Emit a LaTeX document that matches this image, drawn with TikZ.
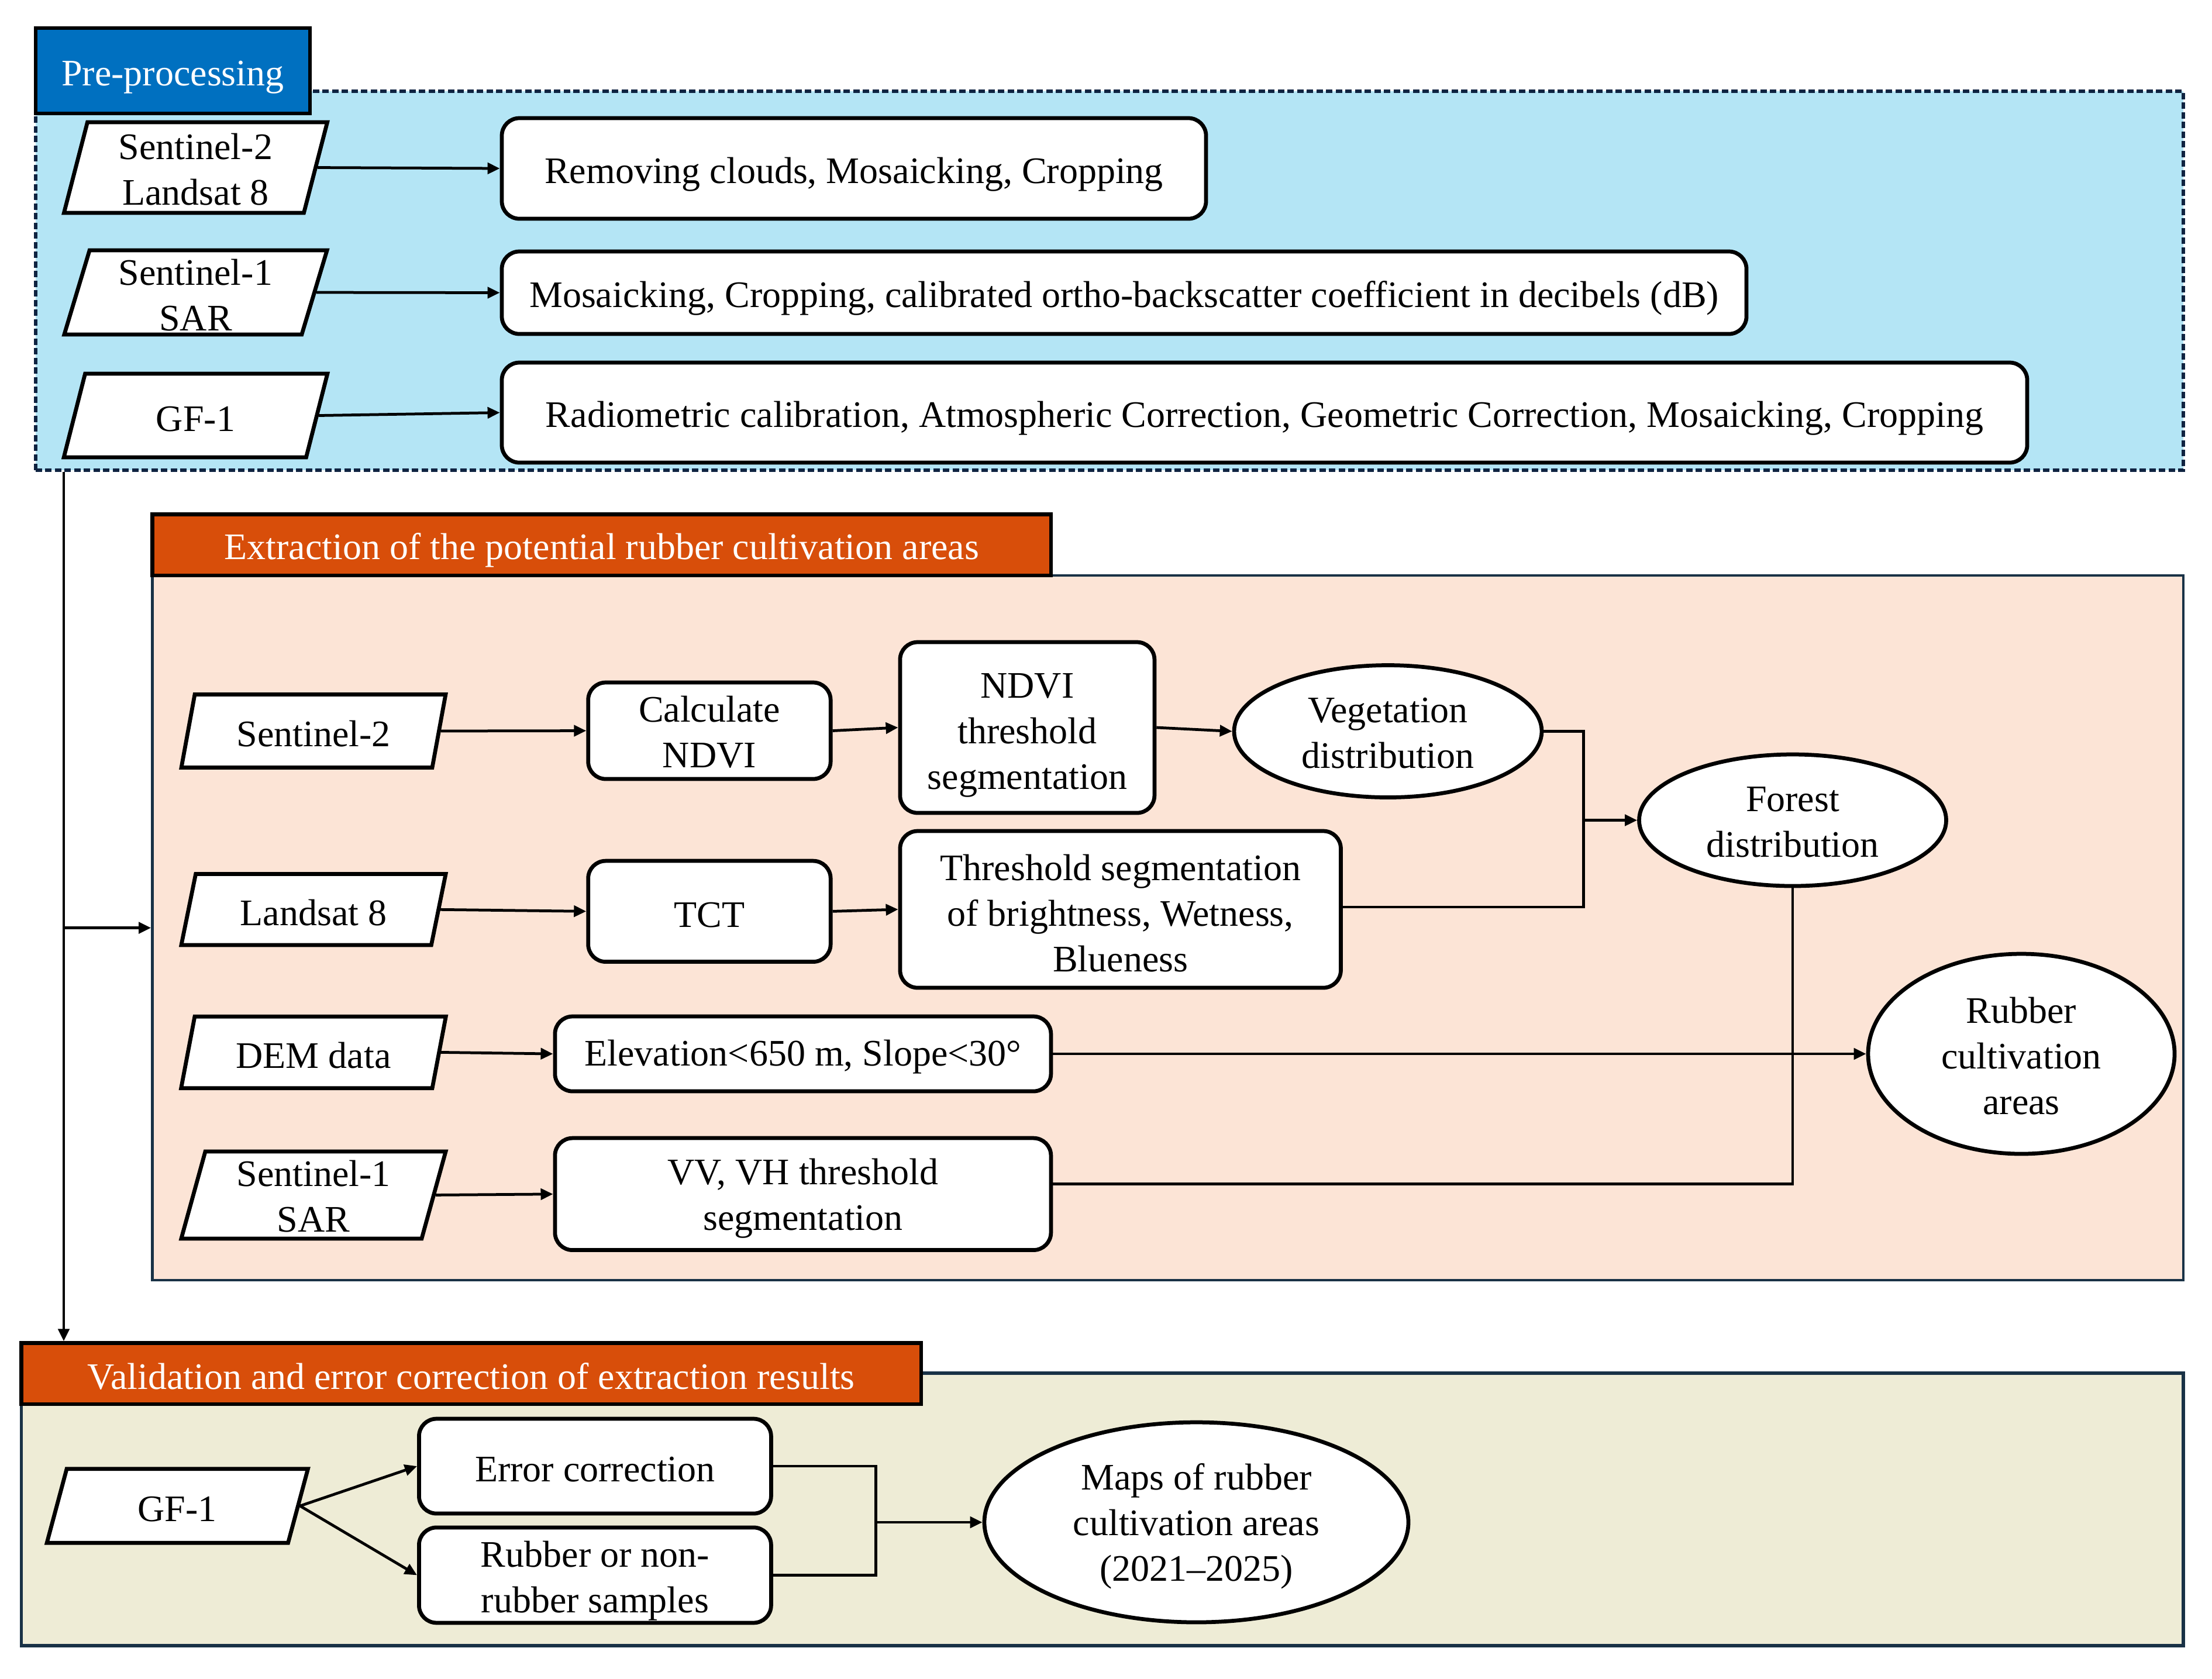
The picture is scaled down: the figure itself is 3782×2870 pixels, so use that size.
\documentclass[tikz,border=0pt]{standalone}
\usepackage{fontspec}
\setmainfont{Liberation Serif}
\usetikzlibrary{shapes.geometric,arrows.meta,calc}
\definecolor{preblue}{RGB}{0,112,192}
\definecolor{prefill}{RGB}{180,229,245}
\definecolor{orangeT}{RGB}{216,78,10}
\definecolor{extfill}{RGB}{252,228,214}
\definecolor{valfill}{RGB}{238,236,214}
\definecolor{framec}{RGB}{25,50,70}
\definecolor{dashc}{RGB}{15,35,65}
\newcommand{\lowby}[1]{\rule{0pt}{#1}}
\begin{document}
\begin{tikzpicture}[x=0.2pt,y=-0.2pt,
  every node/.style={font=\fontsize{12.8}{15.6}\selectfont, inner sep=0pt, align=center,
    execute at begin node={\rule{0pt}{10.8pt}}},
  lower/.style={execute at begin node={\rule{0pt}{12.8pt}}},
  sz/.style 2 args={minimum width=#1, minimum height=#2},
  para/.style 2 args={trapezium, trapezium left angle=#1, trapezium right angle=#2, trapezium stretches=true, draw, fill=white, line width=1.35pt},
  rbox/.style={rectangle, draw, fill=white, rounded corners=6pt, line width=1.35pt},
  ell/.style={ellipse, draw, fill=white, line width=1.35pt},
  region/.style={rectangle, line width=0.9pt},
  titlebox/.style={rectangle, draw=black, line width=1.3pt, text=white},
  arr/.style={-{Triangle[length=4.2pt,width=3.8pt]}, line width=0.95pt},
  conn/.style={line width=0.95pt}]
\useasboundingbox (0,0) rectangle (3782,2870);

% ---------- Pre-processing ----------
\node[region, fill=prefill, draw=dashc, line width=1.2pt, dash pattern=on 2.2pt off 1.1pt, sz={734.4pt}{129.6pt}] (preR) at (1897,480) {};
\node[titlebox, lower, fill=preblue, sz={93.8pt}{29.2pt}] (preT) at (295.5,121) {Pre-processing};

\node[para={77.6}{102.4}, sz={90.2pt}{31pt}] (pA) at (334.5,286.5) {\lowby{10.2pt}Sentinel-2\\Landsat 8};
\node[para={76.7}{103.3}, sz={90.2pt}{28.8pt}] (pB) at (334.5,500) {\lowby{10.8pt}Sentinel-1\\SAR};
\node[para={76.6}{103.4}, sz={90.2pt}{28.6pt}] (pC) at (334.5,710.5) {GF-1};

\node[rbox, lower, sz={240.8pt}{34.4pt}] (b1) at (1460,288) {Removing clouds, Mosaicking, Cropping};
\node[rbox, lower, sz={425.6pt}{28.2pt}] (b2) at (1922,500.5) {Mosaicking, Cropping, calibrated ortho-backscatter coefficient in decibels (dB)};
\node[rbox, lower, sz={521.6pt}{34.2pt}] (b3) at (2162,705.5) {Radiometric calibration, Atmospheric Correction, Geometric Correction, Mosaicking, Cropping};

\draw[arr] (pA.east) -- (b1.west);
\draw[arr] (pB.east) -- (b2.west);
\draw[arr] (pC.east) -- (b3.west);

% ---------- Extraction ----------
\node[region, fill=extfill, draw=framec, sz={694.5pt}{241pt}] (extR) at (1996.75,1586.5) {};
\node[titlebox, lower, fill=orangeT, sz={307.3pt}{20.9pt}] (extT) at (1028.75,931.75) {Extraction of the potential rubber cultivation areas};

\node[para={74.8}{105.2}, sz={90.8pt}{25pt}] (s2) at (536,1250) {Sentinel-2};
\node[para={74.3}{105.7}, sz={90.8pt}{24.3pt}] (l8) at (536,1555.3) {Landsat 8};
\node[para={74.5}{105.5}, sz={90.8pt}{24.5pt}] (dem) at (536,1799.4) {DEM data};
\node[para={77.1}{102.9}, sz={90.8pt}{29.8pt}] (s1) at (536,2043.4) {\lowby{9.8pt}Sentinel-1\\SAR};

\node[rbox, sz={82.9pt}{33pt}] (calc) at (1212.9,1249.5) {\lowby{9.6pt}Calculate\\NDVI};
\node[rbox, sz={82.9pt}{34.5pt}] (tct) at (1212.9,1558.3) {TCT};
\node[rbox, sz={169.6pt}{25.6pt}] (elev) at (1372.9,1802) {Elevation<650 m, Slope<30°};
\node[rbox, sz={169.6pt}{38.3pt}] (vv) at (1372.9,2041.8) {\lowby{11.7pt}VV, VH threshold\\segmentation};
\node[rbox, sz={87pt}{58.4pt}] (ndvi) at (1756.4,1244) {\lowby{13.6pt}NDVI\\threshold\\segmentation};
\node[rbox, sz={150.7pt}{53.6pt}] (thr) at (1915.7,1555) {\lowby{11.7pt}Threshold segmentation\\of brightness, Wetness,\\Blueness};
\node[ell, sz={105.2pt}{45.2pt}] (veg) at (2373,1250.5) {\lowby{9.6pt}Vegetation\\distribution};
\node[ell, sz={105pt}{45pt}] (forest) at (3065,1402.5) {\lowby{9.6pt}Forest\\distribution};
\node[ell, sz={104.8pt}{68.4pt}] (rub) at (3456,1802) {\lowby{10.2pt}Rubber\\cultivation\\areas};

\draw[arr] (s2.east) -- (calc.west);
\draw[arr] (calc.east) -- (ndvi.west);
\draw[arr] (ndvi.east) -- (veg.west);
\draw[arr] (l8.east) -- (tct.west);
\draw[arr] (tct.east) -- (thr.west);
\draw[arr] (dem.east) -- (elev.west);
\draw[arr] (s1.east) -- (vv.west);
\coordinate (jn) at (2707.7,1402.5);
\draw[conn] (veg.east) -| (jn);
\draw[conn] ([yshift=0.8pt]thr.east) -| (jn);
\draw[arr] (jn) -- (forest.west);
\draw[conn] ([yshift=3.5pt]vv.east) -| (forest.south);
\draw[arr] (elev.east) -- (rub.west);

% ---------- Validation ----------
\node[region, fill=valfill, draw=framec, line width=1.1pt, sz={739.3pt}{93.2pt}] (valR) at (1884.75,2581) {};
\node[titlebox, fill=orangeT, sz={307.7pt}{20.9pt}] (valT) at (805.75,2348.85) {Validation and error correction of extraction results};

\node[para={77.5}{102.5}, sz={89.5pt}{25.3pt}] (gf) at (303.3,2575) {GF-1};
\node[rbox, sz={120.4pt}{32.4pt}] (err) at (1017.4,2507) {Error correction};
\node[rbox, sz={120.4pt}{32.6pt}] (samp) at (1017.4,2693.4) {\lowby{12.7pt}Rubber or non-\\rubber samples};
\node[ell, sz={145pt}{68.4pt}] (maps) at (2045.5,2603) {\lowby{11.7pt}Maps of rubber\\cultivation areas\\(2021–2025)};

\draw[arr] (gf.east) -- (err.west);
\draw[arr] (gf.east) -- (samp.west);
\coordinate (jv) at (1497.5,2603);
\draw[conn] (err.east) -| (jv);
\draw[conn] (samp.east) -| (jv);
\draw[arr] (jv) -- (maps.west);

% ---------- Left trunk ----------
\coordinate (lx) at (109,0);
\draw[arr] (preR.south -| lx) -- (valT.north -| lx);
\draw[arr] (extR.west -| lx) -- (extR.west);
\end{tikzpicture}
\end{document}
